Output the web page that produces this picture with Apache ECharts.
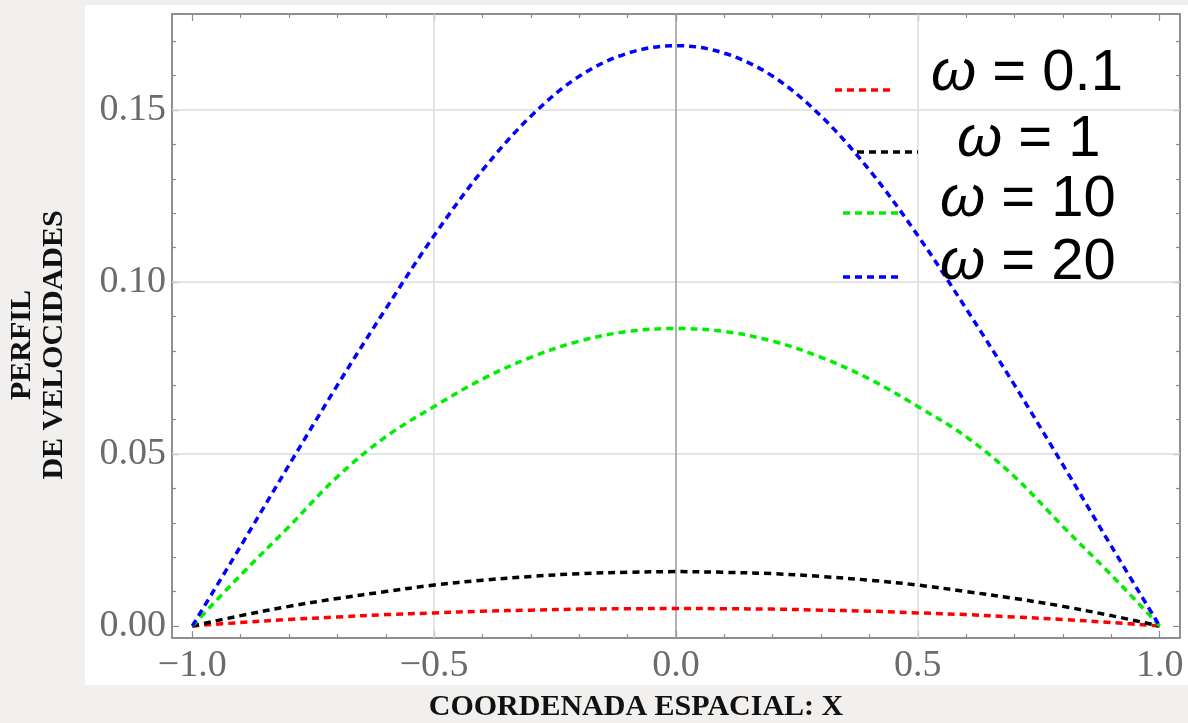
<!DOCTYPE html>
<html>
<head>
    <meta charset="utf-8">
    <title>Perfil de velocidades</title>
    <script src="https://cdn.jsdelivr.net/npm/echarts@6/dist/echarts.min.js"></script>
    <style>
        html, body { margin: 0; padding: 0; background: #f1f0ee; }
        #main { width: 1188px; height: 723px; }
    </style>
</head>
<body>
<div id="main"></div>
<script type="text/javascript">
    // coordenada espacial X
    var xs = [-1.0, -0.9, -0.8, -0.7, -0.6, -0.5, -0.4, -0.3, -0.2, -0.1, 0.0,
               0.1,  0.2,  0.3,  0.4,  0.5,  0.6,  0.7,  0.8,  0.9, 1.0];

    // perfiles
    var w01 = [0, 0.0010, 0.0019, 0.0026, 0.0033, 0.0038, 0.0043, 0.0046, 0.0049, 0.0050, 0.0051,
               0.0050, 0.0049, 0.0046, 0.0043, 0.0038, 0.0033, 0.0026, 0.0019, 0.0010, 0];
    var w1  = [0, 0.0030, 0.0057, 0.0080, 0.0100, 0.0119, 0.0133, 0.0144, 0.0152, 0.0156, 0.0158,
               0.0156, 0.0152, 0.0144, 0.0133, 0.0119, 0.0100, 0.0080, 0.0057, 0.0030, 0];
    var w10 = [0, 0.0148, 0.0289, 0.0434, 0.0550, 0.0638, 0.0718, 0.0781, 0.0828, 0.0856, 0.0865,
               0.0856, 0.0828, 0.0781, 0.0718, 0.0638, 0.0550, 0.0434, 0.0289, 0.0148, 0];
    var w20 = [0, 0.0232, 0.0468, 0.0700, 0.0922, 0.1135, 0.1325, 0.1482, 0.1598, 0.1665, 0.1687,
               0.1665, 0.1598, 0.1482, 0.1325, 0.1135, 0.0922, 0.0700, 0.0468, 0.0232, 0];

    var seriesNames = ['ω = 0.1', 'ω = 1', 'ω = 10', 'ω = 20'];
    var seriesColors = ['#ff0000', '#000000', '#00ee00', '#0000ff'];

    // ticks y etiquetas
    var xLabels = [-1.0, -0.5, 0.0, 0.5, 1.0];
    var xMinor = [-0.9, -0.8, -0.7, -0.6, -0.4, -0.3, -0.2, -0.1, 0.1, 0.2, 0.3, 0.4, 0.6, 0.7, 0.8, 0.9];
    var yLabels = [0, 0.05, 0.10, 0.15];
    var yMinor = [0.01, 0.02, 0.03, 0.04, 0.06, 0.07, 0.08, 0.09, 0.11, 0.12, 0.13, 0.14, 0.16, 0.17];
    var xGrid = [-0.5, 0.5];
    var yGrid = [0.05, 0.10, 0.15];

    var X_MIN = -1.042, X_MAX = 1.042;
    var Y_MIN = -0.0035, Y_MAX = 0.1779;

    var labelFont = {
        fontFamily: 'Liberation Serif',
        fontSize: 38,
        color: '#6b6b6b'
    };

    function pairs(ys) {
        var out = [];
        for (var i = 0; i < xs.length; i++) {
            out.push([xs[i], ys[i]]);
        }
        return out;
    }

    function xAxisDef(pos, ticks, len, withLabels) {
        return {
            type: 'value',
            position: pos,
            min: X_MIN,
            max: X_MAX,
            axisLine: {show: false, onZero: false},
            splitLine: {show: false},
            axisTick: {
                show: true,
                inside: true,
                length: len,
                customValues: ticks,
                lineStyle: {color: '#8a8a8a', width: 1.2}
            },
            axisLabel: withLabels ? Object.assign({
                show: true,
                margin: 9,
                customValues: xLabels,
                formatter: function (v) {
                    var s = Math.abs(v).toFixed(1);
                    return v < 0 ? '\u2212' + s : s;
                }
            }, labelFont) : {show: false}
        };
    }

    function yAxisDef(pos, ticks, len, withLabels) {
        return {
            type: 'value',
            position: pos,
            min: Y_MIN,
            max: Y_MAX,
            axisLine: {show: false, onZero: false},
            splitLine: {show: false},
            axisTick: {
                show: true,
                inside: true,
                length: len,
                customValues: ticks,
                lineStyle: {color: '#8a8a8a', width: 1.2}
            },
            axisLabel: withLabels ? Object.assign({
                show: true,
                margin: 6,
                customValues: yLabels,
                formatter: function (v) {
                    return v.toFixed(2);
                }
            }, labelFont) : {show: false}
        };
    }

    var gridLines = [];
    xGrid.forEach(function (v) {
        gridLines.push({xAxis: v, lineStyle: {color: '#dcdcdc', width: 1.5, type: 'solid'}});
    });
    yGrid.forEach(function (v) {
        gridLines.push({yAxis: v, lineStyle: {color: '#dcdcdc', width: 1.5, type: 'solid'}});
    });
    gridLines.push({xAxis: 0, lineStyle: {color: '#9a9a9a', width: 1.5, type: 'solid'}});

    var curves = [w01, w1, w10, w20];
    var series = [{
        type: 'line',
        data: [],
        z: 1,
        silent: true,
        markLine: {
            silent: true,
            symbol: ['none', 'none'],
            label: {show: false},
            animation: false,
            z: 1,
            data: gridLines
        }
    }];
    curves.forEach(function (c, i) {
        series.push({
            name: seriesNames[i],
            type: 'line',
            data: pairs(c),
            smooth: 0.35,
            symbol: 'none',
            z: 3,
            lineStyle: {
                color: seriesColors[i],
                width: 3.5,
                type: [7, 5]
            }
        });
    });

    // leyenda dibujada a mano (lineas y textos desalineados como en la figura)
    var legendPos = [
        {x1: 835, x2: 895, ly: 90, tx: 931, ty: 74},
        {x1: 857, x2: 918, ly: 152, tx: 957, ty: 140},
        {x1: 843, x2: 903, ly: 213, tx: 940, ty: 200},
        {x1: 843, x2: 903, ly: 277, tx: 940, ty: 263}
    ];
    var graphics = [{
        type: 'rect',
        z: -100,
        silent: true,
        shape: {x: 85, y: 5, width: 1103, height: 680},
        style: {fill: '#ffffff'}
    }, {
        type: 'rect',
        z: 0,
        silent: true,
        shape: {x: 172, y: 14, width: 1008, height: 624},
        style: {fill: 'none', stroke: '#8f8f8f', lineWidth: 2}
    }, {
        type: 'text',
        z: 10,
        x: 38,
        y: 345,
        rotation: Math.PI / 2,
        style: {
            text: 'PERFIL\nDE VELOCIDADES',
            fontFamily: 'Liberation Serif',
            fontWeight: 'bold',
            fontSize: 30,
            lineHeight: 32,
            fill: '#111',
            align: 'center',
            verticalAlign: 'middle'
        }
    }, {
        type: 'text',
        z: 10,
        x: 636,
        y: 707,
        style: {
            text: 'COORDENADA ESPACIAL: X',
            fontFamily: 'Liberation Serif',
            fontWeight: 'bold',
            fontSize: 30,
            fill: '#111',
            align: 'center',
            verticalAlign: 'middle'
        }
    }];
    legendPos.forEach(function (p, i) {
        graphics.push({
            type: 'line',
            z: 20,
            silent: true,
            shape: {x1: p.x1, y1: p.ly, x2: p.x2, y2: p.ly},
            style: {stroke: seriesColors[i], lineWidth: 3.5, lineDash: [7, 5]}
        });
        graphics.push({
            type: 'text',
            z: 20,
            x: p.tx,
            y: p.ty,
            style: {
                text: '{w|ω}' + seriesNames[i].slice(1),
                fontFamily: 'Liberation Sans',
                fontSize: 58,
                fill: '#000',
                align: 'left',
                verticalAlign: 'middle',
                rich: {
                    w: {fontFamily: 'Liberation Sans', fontStyle: 'italic', fontSize: 58, fill: '#000'}
                }
            }
        });
    });

    var option = {
        backgroundColor: '#f1f0ee',
        animation: false,
        grid: {
            left: 172,
            right: 8,
            top: 14,
            bottom: 85,
            containLabel: false
        },
        xAxis: [
            xAxisDef('bottom', xLabels, 7, true),
            xAxisDef('bottom', xMinor, 4, false),
            xAxisDef('top', xLabels, 7, false),
            xAxisDef('top', xMinor, 4, false)
        ],
        yAxis: [
            yAxisDef('left', yLabels, 7, true),
            yAxisDef('left', yMinor, 4, false),
            yAxisDef('right', yLabels, 7, false),
            yAxisDef('right', yMinor, 4, false)
        ],
        series: series,
        graphic: graphics
    };

    var chart = echarts.init(document.getElementById('main'));
    chart.setOption(option);
</script>
</body>
</html>
